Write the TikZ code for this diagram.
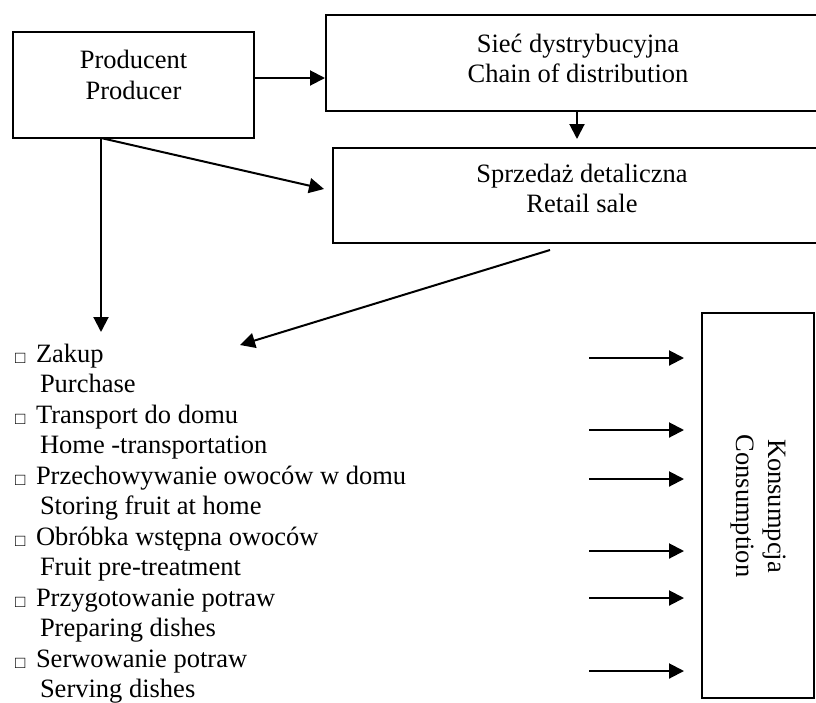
\documentclass[tikz,border=0pt]{standalone}
\usepackage{fontspec}
\setmainfont{Liberation Serif}
\usetikzlibrary{arrows.meta}
\begin{document}
\begin{tikzpicture}[x=1pt,y=-1pt,
  line width=2pt,
  arr/.style={-{Triangle[length=15pt,width=15pt]}},
  boxnode/.style={draw, rectangle, inner sep=0pt},
  lbl/.style={anchor=base, inner sep=0pt, font=\fontsize{26.5}{30}\selectfont},
  item/.style={anchor=base west, inner sep=0pt, font=\fontsize{26.5}{30}\selectfont},
  bul/.style={anchor=base west, inner sep=0pt, font=\fontsize{17}{17}\selectfont},
]
\useasboundingbox (0,0) rectangle (816,702);
\clip (0,0) rectangle (816,702);

% boxes
\node[boxnode, minimum width=241pt, minimum height=106pt] (prod) at (133.5,85) {};
\node[boxnode, minimum width=504pt, minimum height=96pt] (sie) at (578,63) {};
\node[boxnode, minimum width=498pt, minimum height=95pt] (spr) at (582,195.5) {};
\node[boxnode, minimum width=112pt, minimum height=385pt] (cons) at (758,505.5) {};

% box texts
\node[lbl] (prod1) at (133.5,68) {Producent};
\node[lbl] (prod2) at (133.5,99) {Producer};
\node[lbl] (sie1) at (578,52) {Sieć dystrybucyjna};
\node[lbl] (sie2) at (578,82) {Chain of distribution};
\node[lbl] (spr1) at (582,182) {Sprzedaż detaliczna};
\node[lbl] (spr2) at (582,212) {Retail sale};
\node[lbl, rotate=-90] (cons1) at (768,506) {Konsumpcja};
\node[lbl, rotate=-90] (cons2) at (736,506) {Consumption};

% list
\foreach \i/\pl/\en [count=\k from 0] in {
  1/Zakup/Purchase,
  2/Transport do domu/Home -transportation,
  3/Przechowywanie owoców w domu/Storing fruit at home,
  4/Obróbka wstępna owoców/Fruit pre-treatment,
  5/Przygotowanie potraw/Preparing dishes,
  6/Serwowanie potraw/Serving dishes}{
  \node[bul] (b\i) at (14,{363+61*\k}) {□};
  \node[item] (pl\i) at (35,{362+61*\k}) {\pl};
  \node[item] (en\i) at (39,{392.5+61*\k}) {\en};
}

% connectors
\draw[arr] ([yshift=7pt]prod.east) -- ([yshift=7pt]prod.east -| sie.west);
\draw[arr] ([xshift=-1pt]sie.south) -- ([xshift=-1pt,yshift=8pt]spr.north -| sie.south);
\coordinate (pb) at ([xshift=89pt,yshift=1pt]prod.south west);
\draw[arr] (pb) -- ([xshift=-8pt,yshift=6.5pt]spr.west);
\coordinate (vend) at (pb |- 0,332);
\draw[arr] (pb) -- (vend);
\coordinate (rs) at ([xshift=-32pt,yshift=-6pt]spr.south);
\coordinate (lend) at (240,345);
\draw[arr] (rs) -- (lend);

\foreach \y [count=\j] in {358,430,479,551,598,671}{
  \coordinate (a\j) at (589,\y);
  \draw[arr] (a\j) -- ([xshift=-17pt]cons.west |- a\j);
}
\end{tikzpicture}
\end{document}
